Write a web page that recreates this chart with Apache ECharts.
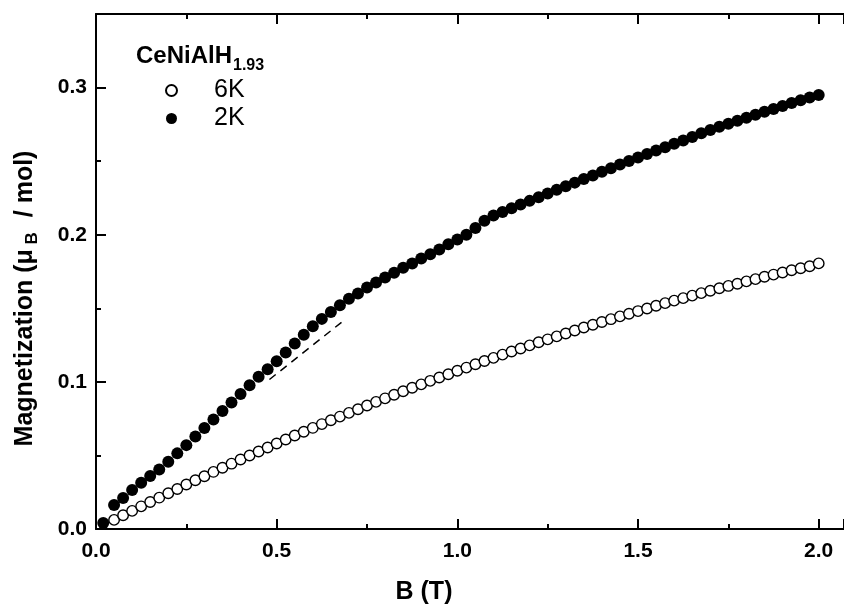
<!DOCTYPE html>
<html>
<head>
<meta charset="utf-8">
<script src="https://cdn.jsdelivr.net/npm/echarts@6/dist/echarts.min.js"></script>
<style>
  html, body { margin: 0; padding: 0; background: #fff; }
  #chart { width: 844px; height: 604px; }
</style>
</head>
<body>
<div id="chart"></div>
<script>
// field B (T) and magnetization (muB / mol)
const field6K = [
  0.05,0.075,0.1,0.125,0.15,0.175,0.2,0.225,0.25,0.275,
  0.3,0.325,0.35,0.375,0.4,0.425,0.45,0.475,0.5,0.525,
  0.55,0.575,0.6,0.625,0.65,0.675,0.7,0.725,0.75,0.775,
  0.8,0.825,0.85,0.875,0.9,0.925,0.95,0.975,1.0,1.025,
  1.05,1.075,1.1,1.125,1.15,1.175,1.2,1.225,1.25,1.275,
  1.3,1.325,1.35,1.375,1.4,1.425,1.45,1.475,1.5,1.525,
  1.55,1.575,1.6,1.625,1.65,1.675,1.7,1.725,1.75,1.775,
  1.8,1.825,1.85,1.875,1.9,1.925,1.95,1.975,2.0
];
const moment6K = [
  0.0062,0.0093,0.0123,0.0154,0.0184,0.0213,0.0243,0.0272,0.0302,0.0331,
  0.0359,0.0388,0.0416,0.0444,0.0472,0.0500,0.0527,0.0554,0.0581,0.0608,
  0.0635,0.0661,0.0687,0.0713,0.0739,0.0764,0.0789,0.0814,0.0839,0.0864,
  0.0888,0.0912,0.0936,0.0960,0.0983,0.1007,0.1030,0.1052,0.1075,0.1097,
  0.1120,0.1142,0.1163,0.1185,0.1206,0.1227,0.1248,0.1269,0.1289,0.1309,
  0.1329,0.1349,0.1369,0.1388,0.1407,0.1426,0.1445,0.1463,0.1481,0.1499,
  0.1517,0.1535,0.1552,0.1569,0.1586,0.1603,0.1619,0.1636,0.1652,0.1667,
  0.1683,0.1698,0.1714,0.1729,0.1743,0.1758,0.1772,0.1786,0.1805
];
const field2K = [
  0.02,
  0.05,0.075,0.1,0.125,0.15,0.175,0.2,0.225,0.25,0.275,
  0.3,0.325,0.35,0.375,0.4,0.425,0.45,0.475,0.5,0.525,
  0.55,0.575,0.6,0.625,0.65,0.675,0.7,0.725,0.75,0.775,
  0.8,0.825,0.85,0.875,0.9,0.925,0.95,0.975,1.0,1.025,
  1.05,1.075,1.1,1.125,1.15,1.175,1.2,1.225,1.25,1.275,
  1.3,1.325,1.35,1.375,1.4,1.425,1.45,1.475,1.5,1.525,
  1.55,1.575,1.6,1.625,1.65,1.675,1.7,1.725,1.75,1.775,
  1.8,1.825,1.85,1.875,1.9,1.925,1.95,1.975,2.0
];
const moment2K = [
  0.0040,
  0.0163,0.0210,0.0265,0.0314,0.0360,0.0405,0.0457,0.0514,0.0570,0.0628,
  0.0686,0.0744,0.0802,0.0860,0.0918,0.0977,0.1035,0.1085,0.1140,0.1200,
  0.1260,0.1320,0.1378,0.1428,0.1475,0.1520,0.1565,0.1600,0.1642,0.1675,
  0.1710,0.1742,0.1775,0.1805,0.1838,0.1868,0.1900,0.1935,0.1968,0.2000,
  0.2045,0.2095,0.2130,0.2155,0.2180,0.2205,0.2230,0.2255,0.2280,0.2305,
  0.2330,0.2354,0.2379,0.2403,0.2428,0.2452,0.2477,0.2501,0.2525,0.2549,
  0.2572,0.2595,0.2618,0.2641,0.2664,0.2690,0.2712,0.2733,0.2754,0.2775,
  0.2795,0.2815,0.2835,0.2855,0.2875,0.2895,0.2914,0.2932,0.2950
];
// dashed guide line (linear low-field extrapolation)
const dashField = [0.48, 0.68];
const dashMoment = [0.1016, 0.1406];

const xTicks = { min: 0, max: 2.07, interval: 0.5 };
const yTicks = { min: 0, max: 0.35, interval: 0.1 };

const font = 'Liberation Sans, Arial, sans-serif';
const pairs = (xs, ys) => xs.map((x, i) => [x, ys[i]]);

const chart = echarts.init(document.getElementById('chart'));

const axisCommon = {
  axisLine: { show: true, onZero: false, lineStyle: { color: '#000', width: 2 } },
  axisTick: { show: true, inside: true, length: 10, lineStyle: { color: '#000', width: 2 } },
  minorTick: { show: true, splitNumber: 2, length: 5, lineStyle: { color: '#000', width: 2 } },
  splitLine: { show: false }
};

chart.setOption({
  animation: false,
  backgroundColor: '#fff',
  title: {
    left: 136,
    top: 41,
    padding: 0,
    text: '{a|CeNiAlH}{b|1.93}',
    textStyle: {
      rich: {
        a: { fontFamily: font, fontSize: 24, fontWeight: 'bold', color: '#000', lineHeight: 30 },
        b: { fontFamily: font, fontSize: 16, fontWeight: 'bold', color: '#000', lineHeight: 16, padding: [20, 0, 0, 1] }
      }
    }
  },
  legend: {
    orient: 'vertical',
    left: 165,
    top: 78,
    padding: 0,
    itemWidth: 11,
    itemHeight: 11,
    itemGap: 3,
    textStyle: { fontFamily: font, fontSize: 25, color: '#000', padding: [0, 0, 0, 32] },
    data: ['6K', '2K']
  },
  grid: { left: 96, right: 0, top: 14, bottom: 75, outerBoundsMode: 'none' },
  xAxis: [
    Object.assign({}, axisCommon, {
      type: 'value',
      position: 'bottom',
      min: xTicks.min, max: xTicks.max, interval: xTicks.interval,
      name: 'B (T)',
      nameLocation: 'middle',
      nameGap: 51,
      nameTextStyle: { fontFamily: font, fontSize: 25, fontWeight: 'bold', color: '#000', padding: [0, 92, 0, 0] },
      axisLabel: {
        margin: 12, showMaxLabel: false,
        fontFamily: font, fontSize: 21, fontWeight: 'bold', color: '#000',
        formatter: v => v.toFixed(1)
      }
    }),
    Object.assign({}, axisCommon, {
      type: 'value',
      position: 'top',
      min: xTicks.min, max: xTicks.max, interval: xTicks.interval,
      axisLabel: { show: false }
    })
  ],
  yAxis: {
    ...axisCommon,
    type: 'value',
    min: yTicks.min, max: yTicks.max, interval: yTicks.interval,
    name: '{a|Magnetization (μ}{b| B}{a| / mol)}',
    nameLocation: 'middle',
    nameRotate: 90,
    nameGap: 56,
    nameTextStyle: {
      padding: [0, 54, 0, 0],
      rich: {
        a: { fontFamily: font, fontSize: 25, fontWeight: 'bold', color: '#000', lineHeight: 30 },
        b: { fontFamily: font, fontSize: 17, fontWeight: 'bold', color: '#000', lineHeight: 17, padding: [14, 8, 0, 0] }
      }
    },
    axisLabel: {
      margin: 9, showMaxLabel: false,
      fontFamily: font, fontSize: 21, fontWeight: 'bold', color: '#000',
      formatter: v => v.toFixed(1)
    }
  },
  series: [
    {
      name: '6K',
      type: 'scatter',
      symbol: 'circle',
      symbolSize: 10.5,
      itemStyle: { color: '#fff', borderColor: '#000', borderWidth: 1.4, opacity: 1 },
      data: pairs(field6K, moment6K)
    },
    {
      name: '2K',
      type: 'scatter',
      symbol: 'circle',
      symbolSize: 12,
      itemStyle: { color: '#000', opacity: 1 },
      data: pairs(field2K, moment2K)
    },
    {
      name: 'guide',
      type: 'line',
      symbol: 'none',
      lineStyle: { color: '#000', width: 1.5, type: [8, 6] },
      data: pairs(dashField, dashMoment)
    }
  ]
});
</script>
</body>
</html>
